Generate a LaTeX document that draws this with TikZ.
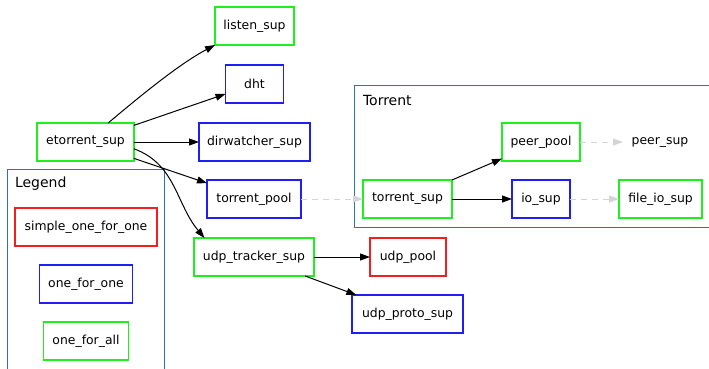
\documentclass[tikz,border=0pt]{standalone}
\usepackage{fontspec}
\setmainfont{DejaVu Sans}
\usetikzlibrary{arrows.meta}
\usetikzlibrary{positioning}

\definecolor{supgreen}{RGB}{30,240,30}
\definecolor{supblue}{RGB}{30,30,245}
\definecolor{supred}{RGB}{245,30,30}
\definecolor{cluster}{RGB}{40,120,160}
\definecolor{ghost}{RGB}{212,212,212}

\begin{document}
\begin{tikzpicture}[x=1pt,y=1pt,node distance=20pt,
  every node/.style={font=\fontsize{12.4}{14}\selectfont,inner xsep=2pt,outer sep=0pt,minimum height=38pt,minimum width=58pt},
  all/.style={draw=supgreen,line width=1.1pt},
  one/.style={draw=supblue,line width=1.1pt},
  simple/.style={draw=supred,line width=1.1pt},
  title/.style={font=\fontsize{14}{16}\selectfont,inner sep=0pt,minimum size=0pt,anchor=west},
  sup/.style={line width=1pt,-{Triangle[length=10pt,width=7pt]}},
  dyn/.style={sup,draw=ghost,dash pattern=on 6pt off 5pt}]
  \useasboundingbox (0,0) rectangle (709,-368);

  % clusters (both run off the page)
  \draw[cluster,line width=1.1pt](7.5,-372)--(7.5,-169.5)--(164.5,-169.5)--(164.5,-372);
  \node (legend) at (15,-184)[title]{Legend};
  \draw[cluster,line width=1.1pt](712,-85.5)--(354.5,-85.5)--(354.5,-227.5)--(712,-227.5);
  \node (torrent) at (363,-100)[title]{Torrent};

  % legend
  \node (simple) at (86,-227)[simple,minimum width=142pt]{simple\_one\_for\_one};
  \node[below=19pt of simple,one,minimum width=93pt](ofo){one\_for\_one};
  \node[below=19pt of ofo,all,minimum width=85pt](ofa){one\_for\_all};

  % top level
  \node (etor) at (85.5,-142)[all,minimum width=97pt]{etorrent\_sup};
  \node (listen) at (254.5,-26)[all,minimum width=79pt]{listen\_sup};
  \node[below of=listen,node distance=58pt,one](dht){dht};
  \node[below of=dht,node distance=58pt,one,minimum width=111pt](dirw){dirwatcher\_sup};
  \node (pool) at (254,-199)[one,minimum width=94pt]{torrent\_pool};
  \node (udp) at (254,-257)[all,minimum width=120pt]{udp\_tracker\_sup};
  \node (udppool) at (408,-257)[simple,minimum width=76pt]{udp\_pool};
  \node (udpproto) at (407.5,-314)[one,minimum width=111pt]{udp\_proto\_sup};

  % torrent
  \node (tsup) at (407.5,-199)[all,minimum width=89pt]{torrent\_sup};
  \node (peerpool) at (541,-142)[all,minimum width=78pt]{peer\_pool};
  \node (io) at (541,-199)[one]{io\_sup};
  \node (peersup) at (660,-142)[minimum width=74pt]{peer\_sup};
  \node (fileio) at (660.5,-199)[all,minimum width=83pt]{file\_io\_sup};

  \draw[sup](etor.40) to[out=40,in=208,looseness=0.8] (listen.south west);
  \draw[sup](etor)--(dht);
  \draw[sup](etor)--(dirw);
  \draw[sup](etor)--(pool);
  \draw[sup](etor.-8) to[out=-20,in=130] (udp.159);
  \draw[sup](udp)--(udppool);
  \draw[sup](udp)--(udpproto);
  \draw[sup](tsup)--(peerpool);
  \draw[sup](tsup)--(io);
  \draw[dyn](pool)--(tsup);
  \draw[dyn](peerpool)--(peersup);
  \draw[dyn](io)--(fileio);
\end{tikzpicture}
\end{document}
